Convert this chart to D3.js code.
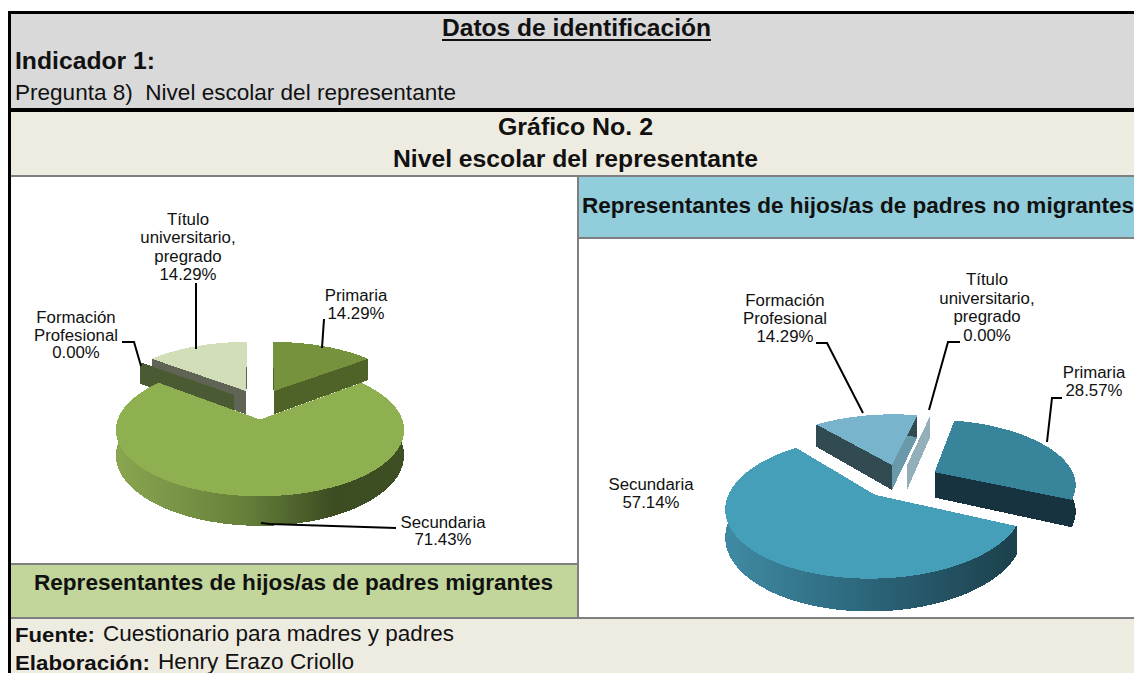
<!DOCTYPE html>
<html><head><meta charset="utf-8">
<script src="https://cdn.jsdelivr.net/npm/d3@7/dist/d3.min.js"></script>
<style>html,body{margin:0;padding:0;background:#fff;overflow:hidden}svg{display:block}text{font-family:"Liberation Sans",Arial,sans-serif;fill:#111}</style>
</head><body><svg id="c" width="1134" height="673"></svg>
<script>
const categories=["Primaria","Secundaria","Formación Profesional","Título universitario, pregrado"];
const valuesMigrantes=[14.29,71.43,0,14.29];
const valuesNoMigrantes=[28.57,57.14,14.29,0];
const labelLines=[["Primaria"],["Secundaria"],["Formación","Profesional"],["Título","universitario,","pregrado"]];

const svg=d3.select("#c"),defs=svg.append("defs");
function rect(x,y,w,h,f){svg.append("rect").attr("x",x).attr("y",y).attr("width",w).attr("height",h).attr("fill",f);}
function text(s,x,y,size,opt={}){
  const t=svg.append("text").attr("x",x).attr("y",y).attr("font-size",size).attr("text-anchor",opt.anchor||"start")
    .attr("font-weight",opt.bold?"bold":"normal").text(s);
  const target=opt.width||t.node().getComputedTextLength()*(opt.sx||1);
  t.attr("textLength",target).attr("lengthAdjust","spacingAndGlyphs");
  return t;
}
// panels
rect(8,11,1126,662,"#000");
rect(11,14,1123,94,"#d9d9d9");
rect(11,112,1123,63,"#eeece1");
rect(11,175,1123,2,"#7f7f7f");
rect(11,177,566,386,"#fff");
rect(577,177,2,442,"#7f7f7f");
rect(11,563,566,2,"#7f7f7f");
rect(11,565,566,52,"#c2d69b");
rect(579,177,555,60,"#92cddc");
rect(579,237,555,2,"#7f7f7f");
rect(579,239,555,378,"#fff");
rect(11,617,1123,2,"#7f7f7f");
rect(11,619,1123,54,"#eeece1");

// headings
text("Datos de identificación",442,36,24.5,{bold:1,width:269});
rect(442,39,269,2,"#111");
text("Indicador 1:",15,69,24.5,{bold:1,width:140});
text("Pregunta 8)  Nivel escolar del representante",15,100,22.5,{width:441}).style("white-space","pre");
text("Gráfico No. 2",498,135,23.5,{bold:1,width:155});
text("Nivel escolar del representante",393,167,23.5,{bold:1,width:365});
text("Representantes de hijos/as de padres no migrantes",582,213,22,{bold:1,width:552});
text("Representantes de hijos/as de padres migrantes",34,590,22,{bold:1,width:519});
text("Fuente:",15,642,21,{bold:1,width:80});
text("Cuestionario para madres y padres",103,641,21.5,{width:351});
text("Elaboración:",15,670,21,{bold:1,width:135});
text("Henry Erazo Criollo",158,669,21.5,{width:196});

const line=d3.line();
function pie3d(cfg,values,style){
  const pie=d3.pie().sort(null).value(d=>d).startAngle(cfg.a0).endAngle(cfg.a0+2*Math.PI)(values);
  const proj=(X,Y,h)=>{const s=1/(1+cfg.k*Y);return [cfg.cx+cfg.Rx*X*s,cfg.cy-cfg.Ry*Y*s+cfg.h*h*s];};
  const g=svg.append("g").attr("shape-rendering","crispEdges");
  const grad=defs.append("linearGradient").attr("id",cfg.id).attr("gradientUnits","userSpaceOnUse")
    .attr("x1",cfg.g0).attr("x2",cfg.g1).attr("y1",0).attr("y2",0);
  cfg.stops.forEach(s=>grad.append("stop").attr("offset",s[0]).attr("stop-color",s[1]));
  const items=pie.map((p,i)=>{
    const mid=(p.startAngle+p.endAngle)/2,e=cfg.explode[i];
    return {p,i,ox:e*Math.sin(mid),oy:e*Math.cos(mid)};
  }).sort((a,b)=>b.oy-a.oy);
  items.forEach(({p,i,ox,oy})=>{
    const st=style[i];
    const angles=d3.range(0,61).map(j=>p.startAngle+(p.endAngle-p.startAngle)*j/60);
    const pt=(a,r,h)=>proj(ox+r*Math.sin(a),oy+r*Math.cos(a),h);
    const wall=(a,f)=>g.append("path").attr("fill",f).attr("d",line([pt(a,0,0),pt(a,1,0),pt(a,1,1),pt(a,0,1)])+"Z");
    wall(p.startAngle,st.wallS);
    wall(p.endAngle,st.wallE);
    if(p.value>0){
      const topArc=angles.map(a=>pt(a,1,0)),botArc=angles.map(a=>pt(a,1,1)).reverse();
      g.append("path").attr("fill",st.side==="grad"?`url(#${cfg.id})`:st.side).attr("d",line(topArc.concat(botArc))+"Z");
      g.append("path").attr("fill",st.top).attr("d",line([pt(0,0,0)].concat(topArc))+"Z");
    }
  });
}
const a=d3.scaleLinear().domain([0,360]).range([0,2*Math.PI]);
const styleMig=[
 {top:"#76923c",side:"#4f6228",wallS:"#4f6228",wallE:"#4f6228"},
 {top:"#8fb050",side:"grad",wallS:"#4f6228",wallE:"#4f6228"},
 {top:"#4a5a32",side:"#4a5a32",wallS:"#4a5a32",wallE:"#4a5a32"},
 {top:"#d1deb8",side:"#5f6454",wallS:"#5f6454",wallE:"#5f6454"}];
const styleNo=[
 {top:"#37849b",side:"#17333f",wallS:"#17333f",wallE:"#17333f"},
 {top:"#459fb9",side:"grad",wallS:"#1c3f4b",wallE:"#1c3f4b"},
 {top:"#78b4cb",side:"#324a52",wallS:"#324a52",wallE:"#6a9aaa"},
 {top:"#93afba",side:"#93afba",wallS:"#93afba",wallE:"#93afba"}];
pie3d({id:"gm",a0:a(0),cx:260,cy:404,Rx:137,Ry:60,k:.15,h:24,explode:[.25,.25,.25,.25],
  g0:115,g1:405,stops:[[0,"#8aa650"],[.45,"#66803a"],[.75,"#3d4d22"],[1,"#3f4f24"]]},valuesMigrantes,styleMig);
pie3d({id:"gn",a0:a(12),cx:900,cy:480,Rx:141,Ry:64,k:.17,h:26,explode:[.28,.28,.25,.25],
  g0:727,g1:1020,stops:[[0,"#3f8aa3"],[.5,"#2b6478"],[1,"#1c3f4b"]]},valuesNoMigrantes,styleNo);

// leaders
const leaders=[
 [[196,283],[196,349]],[[324,319],[322,348]],[[122,342],[134,342],[141,366]],[[261,523],[270,524],[396,528]],
 [[816,343],[827,343],[863,413]],[[960,342],[948,342],[929,410]],[[1062,398],[1052,398],[1047,442]]];
leaders.forEach(l=>svg.append("path").attr("d",line(l)).attr("fill","none").attr("stroke","#000").attr("stroke-width",2));

// labels
const fmt=v=>v.toFixed(2)+"%";
function label(lines,v,cx,y0,dy){
  lines.concat([fmt(v)]).forEach((s,i)=>text(s,cx,y0+i*dy,16,{anchor:"middle",sx:1.05}));
}
const posMig=[[356,301,17.5],[443,528,17],[76,323,17.5],[188,225,18.3]];
const posNo=[[1094,378,18],[651,490,18],[785,306,18],[987,285,18.7]];
posMig.forEach((q,i)=>label(labelLines[i],valuesMigrantes[i],q[0],q[1],q[2]));
posNo.forEach((q,i)=>label(labelLines[i],valuesNoMigrantes[i],q[0],q[1],q[2]));
</script></body></html>
